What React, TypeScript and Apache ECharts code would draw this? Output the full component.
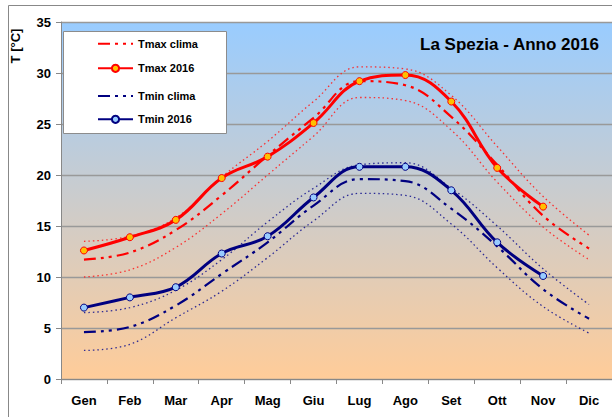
import React, { useEffect, useRef } from "react";
import * as echarts from "echarts";

const months = ["Gen", "Feb", "Mar", "Apr", "Mag", "Giu", "Lug", "Ago", "Set", "Ott", "Nov", "Dic"];
const tmax2016 = [12.6, 13.9, 15.6, 19.7, 21.8, 25.1, 29.2, 29.8, 27.2, 20.7, 16.9, null];
const tmin2016 = [7.0, 8.0, 9.0, 12.3, 14.0, 17.8, 20.8, 20.8, 18.5, 13.4, 10.1, null];
const tmaxClima = [11.7, 12.4, 14.6, 18.0, 21.9, 25.6, 29.2, 28.8, 25.7, 21.0, 16.0, 12.8];
const tmaxClimaHigh = [13.5, 14.0, 15.8, 19.8, 23.3, 27.2, 30.6, 30.4, 27.8, 22.8, 17.9, 14.1];
const tmaxClimaLow = [10.0, 10.7, 12.9, 16.2, 20.0, 23.8, 27.6, 27.3, 24.4, 19.3, 14.9, 11.7];
const tminClima = [4.6, 5.1, 7.2, 10.3, 13.4, 17.0, 19.6, 19.4, 16.7, 13.0, 8.8, 5.9];
const tminClimaHigh = [6.5, 7.0, 8.7, 11.7, 15.4, 18.7, 21.0, 21.2, 18.7, 15.0, 10.8, 7.3];
const tminClimaLow = [2.8, 3.4, 6.0, 8.6, 11.9, 15.5, 18.2, 18.0, 15.2, 10.9, 7.1, 4.5];
const yMin = 0;
const yMax = 35;
const yStep = 5;

const titleText = "La Spezia - Anno 2016";
const yAxisTitle = "T [°C]";
const legendRows: [string, number, boolean][] = [
  ["Tmax clima", 43.7, false],
  ["Tmax 2016", 68.3, true],
  ["Tmin clima", 96, false],
  ["Tmin 2016", 119.3, true],
];

const FONT = "'Liberation Sans', Arial, sans-serif";
const RED = "#FF0000";
const NAVY = "#000080";
const DASHDOT = [12, 5, 3, 5, 3, 5];
const DOT = [1.5, 3];

export default function App() {
  const ref = useRef<HTMLDivElement>(null);
  useEffect(() => {
    if (!ref.current) return;
    const chart = echarts.init(ref.current, undefined, { renderer: "svg" });
    const dotted = (name: string, data: (number | null)[], color: string) => ({
      name,
      type: "line",
      data,
      smooth: 0.4,
      symbol: "none",
      z: 2,
      lineStyle: { color, width: 1.3, type: DOT, opacity: 0.9 },
    });
    const option: any = {
      animation: false,
      backgroundColor: "#ffffff",
      title: {
        text: titleText,
        left: 420,
        top: 36,
        padding: 0,
        textStyle: { fontFamily: FONT, fontSize: 17, fontWeight: "bold", color: "#000" },
      },
      grid: {
        left: 61,
        right: -2,
        top: 22,
        bottom: 38,
        show: true,
        borderWidth: 0,
        backgroundColor: new echarts.graphic.LinearGradient(0, 0, 0, 1, [
          { offset: 0, color: "#99CCFF" },
          { offset: 1, color: "#FFCC99" },
        ]),
      },
      legend: legendRows.map(([name, cy, marker]) => ({
        data: [name],
        left: 97,
        top: cy - 5.5,
        padding: 0,
        itemWidth: 35,
        itemHeight: 9,
        selectedMode: false,
        z: 6,
        itemStyle: marker ? {} : { color: "rgba(0,0,0,0)", borderWidth: 0, opacity: 0 },
        textStyle: { fontFamily: FONT, fontSize: 11, fontWeight: "bold", color: "#000" },
      })),
      graphic: [
        {
          type: "rect",
          z: 0,
          silent: true,
          shape: { x: 8.5, y: 5.5, width: 700, height: 500 },
          style: { fill: "none", stroke: "#888888", lineWidth: 1 },
        },
        {
          type: "rect",
          z: 5,
          silent: true,
          shape: { x: 63.5, y: 31.5, width: 163, height: 102 },
          style: { fill: "#ffffff", stroke: "#8c8c8c", lineWidth: 1 },
        },
        {
          type: "text",
          x: 15,
          y: 46,
          rotation: Math.PI / 2,
          silent: true,
          style: {
            text: yAxisTitle,
            align: "center",
            verticalAlign: "middle",
            font: `bold 13px ${FONT}`,
            fill: "#000",
          },
        },
      ],
      xAxis: {
        type: "category",
        data: months,
        boundaryGap: true,
        axisLine: { lineStyle: { color: "#888888", width: 1 } },
        axisTick: { show: true, length: 5, lineStyle: { color: "#888888" } },
        axisLabel: { fontFamily: FONT, fontSize: 13, fontWeight: "bold", color: "#000", margin: 15 },
        splitLine: { show: false },
      },
      yAxis: {
        type: "value",
        min: yMin,
        max: yMax,
        interval: yStep,
        axisLine: { show: true, lineStyle: { color: "#888888", width: 1 } },
        axisTick: { show: true, length: 5, lineStyle: { color: "#888888" } },
        axisLabel: { fontFamily: FONT, fontSize: 13, fontWeight: "bold", color: "#000", margin: 10 },
        splitLine: { show: true, lineStyle: { color: "#999999", width: 1.3 } },
      },
      series: [
        dotted("Tmax clima max", tmaxClimaHigh, "#FF2020"),
        dotted("Tmax clima min", tmaxClimaLow, "#FF2020"),
        dotted("Tmin clima max", tminClimaHigh, "#1a1a90"),
        dotted("Tmin clima min", tminClimaLow, "#1a1a90"),
        {
          name: "Tmax clima",
          type: "line",
          data: tmaxClima,
          smooth: 0.4,
          symbol: "none",
          z: 3,
          lineStyle: { color: RED, width: 2.2, type: DASHDOT },
          itemStyle: { color: RED },
        },
        {
          name: "Tmin clima",
          type: "line",
          data: tminClima,
          smooth: 0.4,
          symbol: "none",
          z: 3,
          lineStyle: { color: NAVY, width: 2.2, type: DASHDOT },
          itemStyle: { color: NAVY },
        },
        {
          name: "Tmax 2016",
          type: "line",
          data: tmax2016,
          smooth: 0.4,
          symbol: "circle",
          symbolSize: 7,
          z: 4,
          lineStyle: { color: RED, width: 3 },
          itemStyle: { color: "#FFC000", borderColor: RED, borderWidth: 1 },
        },
        {
          name: "Tmin 2016",
          type: "line",
          data: tmin2016,
          smooth: 0.4,
          symbol: "circle",
          symbolSize: 7,
          z: 4,
          lineStyle: { color: NAVY, width: 3 },
          itemStyle: { color: "#99CCFF", borderColor: NAVY, borderWidth: 1 },
        },
      ],
    };
    chart.setOption(option);
    return () => chart.dispose();
  }, []);
  return (
    <div
      ref={ref}
      style={{ position: "fixed", left: 0, top: 0, width: 612, height: 417 }}
    />
  );
}
